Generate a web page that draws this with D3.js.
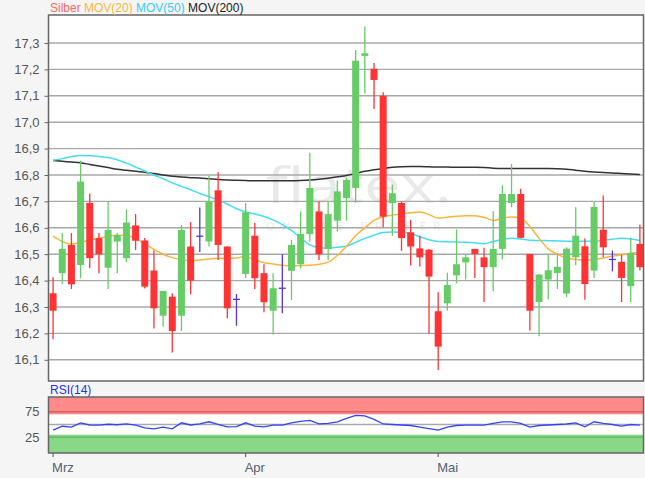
<!DOCTYPE html>
<html><head><meta charset="utf-8">
<script src="https://cdn.jsdelivr.net/npm/d3@7"></script>
<style>
html,body{margin:0;padding:0;background:#f5f5f5;}
svg{display:block;font-family:"Liberation Sans",Arial,sans-serif;}
</style></head>
<body>
<svg id="chart" width="645" height="478"></svg>
<script>
// ---- data ----
const monthLabels = ["Mrz", "Apr", "Mai"];
const monthIndex = [0, 21, 42];
const yTicks = [16.1,16.2,16.3,16.4,16.5,16.6,16.7,16.8,16.9,17.0,17.1,17.2,17.3];
const rsiTicks = [75, 25];

const open  = [16.352,16.428,16.535,16.459,16.694,16.561,16.449,16.548,16.485,16.609,16.552,16.438,16.267,16.339,16.267,16.529,16.568,16.548,16.742,16.529,16.329,
               16.425,16.570,16.428,16.286,16.371,16.437,16.462,16.576,16.662,16.520,16.627,16.713,16.751,17.251,17.202,17.100,16.693,16.694,16.583,16.522,16.517,
               16.284,16.314,16.420,16.469,16.520,16.488,16.451,16.520,16.694,16.728,16.501,16.319,16.404,16.429,16.351,16.488,16.530,16.438,16.593,16.480,16.471,16.379,16.539];
const high  = [16.413,16.580,16.580,16.854,16.730,16.580,16.700,16.580,16.670,16.652,16.561,16.514,16.361,16.352,16.611,16.622,16.677,16.797,16.810,16.529,16.349,
               16.694,16.618,16.462,16.428,16.500,16.554,16.662,16.884,16.700,16.700,16.778,16.790,17.273,17.362,17.224,17.113,16.763,16.700,16.630,16.570,16.520,
               16.356,16.430,16.594,16.501,16.520,16.524,16.663,16.761,16.842,16.748,16.501,16.425,16.501,16.501,16.526,16.678,16.559,16.700,16.722,16.514,16.498,16.562,16.612];
const low   = [16.178,16.386,16.368,16.409,16.447,16.428,16.368,16.428,16.470,16.516,16.370,16.219,16.225,16.128,16.209,16.348,16.508,16.529,16.478,16.257,16.229,
               16.409,16.368,16.280,16.196,16.276,16.327,16.447,16.548,16.478,16.478,16.586,16.627,16.696,17.109,17.050,16.602,16.570,16.513,16.457,16.453,16.200,
               16.061,16.286,16.390,16.404,16.410,16.319,16.360,16.480,16.678,16.560,16.211,16.189,16.328,16.368,16.338,16.458,16.327,16.410,16.488,16.435,16.319,16.319,16.438];
const close = [16.286,16.520,16.386,16.775,16.485,16.500,16.592,16.573,16.620,16.551,16.377,16.295,16.361,16.209,16.592,16.400,16.568,16.700,16.535,16.295,16.329,
               16.659,16.409,16.318,16.371,16.371,16.535,16.577,16.751,16.500,16.652,16.738,16.781,17.233,17.261,17.160,16.642,16.731,16.561,16.529,16.488,16.415,
               16.150,16.383,16.462,16.488,16.501,16.451,16.520,16.728,16.728,16.562,16.286,16.423,16.439,16.452,16.521,16.570,16.387,16.679,16.526,16.480,16.410,16.505,16.451];

const mov20 = [16.568,16.548,16.538,16.545,16.553,16.560,16.568,16.572,16.571,16.560,16.540,16.518,16.500,16.487,16.480,16.476,16.478,16.482,16.485,16.485,16.486,
               16.492,16.478,16.468,16.463,16.458,16.456,16.457,16.458,16.462,16.470,16.495,16.530,16.570,16.600,16.628,16.642,16.648,16.653,16.657,16.660,16.650,
               16.637,16.640,16.644,16.646,16.646,16.640,16.628,16.636,16.641,16.637,16.605,16.560,16.520,16.500,16.485,16.481,16.477,16.480,16.486,16.492,16.498,16.504,16.507];
const mov50 = [16.856,16.862,16.870,16.874,16.873,16.870,16.866,16.858,16.845,16.830,16.815,16.800,16.786,16.770,16.757,16.744,16.730,16.718,16.705,16.690,16.672,
               16.660,16.652,16.643,16.630,16.612,16.590,16.562,16.535,16.525,16.523,16.526,16.530,16.545,16.560,16.572,16.582,16.584,16.583,16.578,16.566,16.555,
               16.548,16.547,16.546,16.545,16.543,16.540,16.548,16.556,16.560,16.558,16.553,16.552,16.551,16.550,16.549,16.549,16.549,16.549,16.553,16.557,16.560,16.558,16.552];
const mov200 = [16.855,16.852,16.849,16.846,16.840,16.834,16.828,16.822,16.818,16.814,16.810,16.806,16.800,16.795,16.792,16.790,16.789,16.786,16.783,16.781,16.780,
               16.779,16.778,16.778,16.778,16.778,16.778,16.779,16.781,16.784,16.788,16.793,16.798,16.806,16.814,16.820,16.825,16.829,16.831,16.832,16.832,16.831,
               16.830,16.830,16.829,16.829,16.829,16.828,16.826,16.825,16.825,16.825,16.825,16.825,16.825,16.824,16.822,16.818,16.814,16.811,16.809,16.808,16.806,16.804,16.802];
const rsi = [38.8,46.5,44.7,53.3,49,48.7,50.5,49.5,51.3,48.7,43.4,41.5,44.7,41.4,53.3,49,51.3,55.3,50,45.4,46,
             53.3,46.7,45.4,48.7,48.7,53.3,56,58,51.3,52,55,62,68,67,60,51,50,49,48,45,42,
             38.8,45,48,48.7,48.7,48.7,52,55.3,55.3,52,44.7,48,49,50,51,53.3,45.4,55.3,52,50,47,50,48.7];

// ---- layout ----
const svg = d3.select("#chart");
const L = 48.5, R = 643.5;
const mainTop = 15, mainBot = 381;
const rsiTop = 397, rsiBot = 453;
const idx = d3.range(open.length);

const x = d3.scaleBand().domain(idx).range([L, R + 1]);
const cx = i => x(i) + x.bandwidth() / 2;
const y = d3.scaleLinear().domain([16.0197, 17.406]).range([mainBot, mainTop]);
const yr = d3.scaleLinear().domain([-6, 104]).range([rsiBot, rsiTop]);

const fmt = d => d.toFixed(1).replace(".", ",");

// main panel background
svg.append("rect").attr("x", L).attr("y", mainTop).attr("width", R - L).attr("height", mainBot - mainTop).attr("fill", "#fff");

// watermark
const wm = svg.append("g").attr("fill", "#e9e9e9");
wm.append("text").attr("x", 266).attr("y", 203).attr("font-size", 50).attr("font-family", "'Open Sans',sans-serif")
  .attr("textLength", 186).attr("lengthAdjust", "spacingAndGlyphs").text("flatex.");
wm.append("text").attr("x", 266).attr("y", 230).attr("font-size", 11).attr("font-family", "'Open Sans',sans-serif")
  .attr("textLength", 174).attr("lengthAdjust", "spacing").text("ONLINE BROKER");

// gridlines
svg.append("g").selectAll("line").data(yTicks).join("line")
  .attr("x1", L).attr("x2", R).attr("y1", d => y(d)).attr("y2", d => y(d))
  .attr("stroke", "#a8a8a8").attr("stroke-width", 1.4);

// y axis
const yAxis = svg.append("g").attr("transform", `translate(${L},0)`)
  .call(d3.axisLeft(y).tickValues(yTicks).tickFormat(fmt).tickSize(4).tickPadding(5));
yAxis.select(".domain").remove();
yAxis.selectAll(".tick line").attr("stroke", "#666");
yAxis.selectAll(".tick text").attr("fill", "#555").attr("font-size", 13).attr("font-family", "'Liberation Sans',Arial,sans-serif");

// moving averages
const line = arr => d3.line().x((d, i) => cx(i)).y(d => y(d)).curve(d3.curveMonotoneX)(arr);
svg.append("path").attr("d", line(mov200)).attr("fill", "none").attr("stroke", "#333").attr("stroke-width", 1.5);
svg.append("path").attr("d", line(mov50)).attr("fill", "none").attr("stroke", "#44ddf5").attr("stroke-width", 1.5);
svg.append("path").attr("d", line(mov20)).attr("fill", "none").attr("stroke", "#fbb63a").attr("stroke-width", 1.5);

// candles
const colorOf = i => close[i] > open[i] ? "#66cc66" : (close[i] < open[i] ? "#ff3333" : "#5533dd");
const cg = svg.append("g");
cg.selectAll("line.wick").data(idx).join("line").attr("class", "wick")
  .attr("x1", cx).attr("x2", cx).attr("y1", i => y(high[i])).attr("y2", i => y(low[i]))
  .attr("stroke", colorOf).attr("stroke-width", 1.3);
const bw = 7;
cg.selectAll("rect.body").data(idx.filter(i => close[i] !== open[i])).join("rect").attr("class", "body")
  .attr("x", i => cx(i) - bw / 2).attr("width", bw)
  .attr("y", i => y(Math.max(open[i], close[i])))
  .attr("height", i => Math.max(1, Math.abs(y(open[i]) - y(close[i]))))
  .attr("fill", colorOf);
cg.selectAll("line.doji").data(idx.filter(i => close[i] === open[i])).join("line").attr("class", "doji")
  .attr("x1", i => cx(i) - bw / 2).attr("x2", i => cx(i) + bw / 2)
  .attr("y1", i => y(close[i])).attr("y2", i => y(close[i]))
  .attr("stroke", "#5533dd").attr("stroke-width", 1.3);

// main border
svg.append("rect").attr("x", L).attr("y", mainTop).attr("width", R - L).attr("height", mainBot - mainTop)
  .attr("fill", "none").attr("stroke", "#666").attr("stroke-width", 1.5);

// legend
const leg = svg.append("text").attr("x", 50).attr("y", 12).attr("font-size", 12);
leg.append("tspan").attr("fill", "#ff6666").text("Silber ");
leg.append("tspan").attr("fill", "#fbb63a").text("MOV(20) ");
leg.append("tspan").attr("fill", "#33ccf5").text("MOV(50) ");
leg.append("tspan").attr("fill", "#222").text("MOV(200)");

// ---- RSI panel ----
svg.append("text").attr("x", 50).attr("y", 394).attr("font-size", 12).attr("fill", "#2233ee").text("RSI(14)");
svg.append("rect").attr("x", L).attr("y", rsiTop).attr("width", R - L).attr("height", rsiBot - rsiTop).attr("fill", "#fff");
svg.append("rect").attr("x", L).attr("y", rsiTop).attr("width", R - L).attr("height", yr(70) - rsiTop).attr("fill", "#ff8a8a");
svg.append("rect").attr("x", L).attr("y", yr(30)).attr("width", R - L).attr("height", rsiBot - yr(30)).attr("fill", "#88d888");
svg.append("line").attr("x1", L).attr("x2", R).attr("y1", yr(75)).attr("y2", yr(75)).attr("stroke", "#d86060").attr("stroke-width", 1.3);
svg.append("line").attr("x1", L).attr("x2", R).attr("y1", yr(25)).attr("y2", yr(25)).attr("stroke", "#5cb05c").attr("stroke-width", 1.3);
svg.append("line").attr("x1", L).attr("x2", R).attr("y1", yr(50)).attr("y2", yr(50)).attr("stroke", "#aaa").attr("stroke-width", 1.3);

svg.append("path").attr("d", d3.line().x((d, i) => cx(i)).y(d => yr(d))(rsi))
  .attr("fill", "none").attr("stroke", "#3344ff").attr("stroke-width", 1.3);

svg.append("rect").attr("x", L).attr("y", rsiTop).attr("width", R - L).attr("height", rsiBot - rsiTop)
  .attr("fill", "none").attr("stroke", "#666").attr("stroke-width", 1.5);

const rAxis = svg.append("g").attr("transform", `translate(${L},0)`)
  .call(d3.axisLeft(yr).tickValues(rsiTicks).tickSize(0).tickPadding(9));
rAxis.select(".domain").remove();
rAxis.selectAll(".tick text").attr("fill", "#555").attr("font-size", 13).attr("font-family", "'Liberation Sans',Arial,sans-serif");

// x axis month ticks
const xg = svg.append("g");
xg.selectAll("line").data(monthIndex).join("line")
  .attr("x1", i => cx(i)).attr("x2", i => cx(i)).attr("y1", rsiBot).attr("y2", rsiBot + 4)
  .attr("stroke", "#667").attr("stroke-width", 1.2);
xg.selectAll("text").data(monthIndex).join("text")
  .attr("x", i => cx(i) - 1).attr("y", 472).attr("font-size", 13).attr("fill", "#516273")
  .text((d, k) => monthLabels[k]);
</script>
</body></html>
